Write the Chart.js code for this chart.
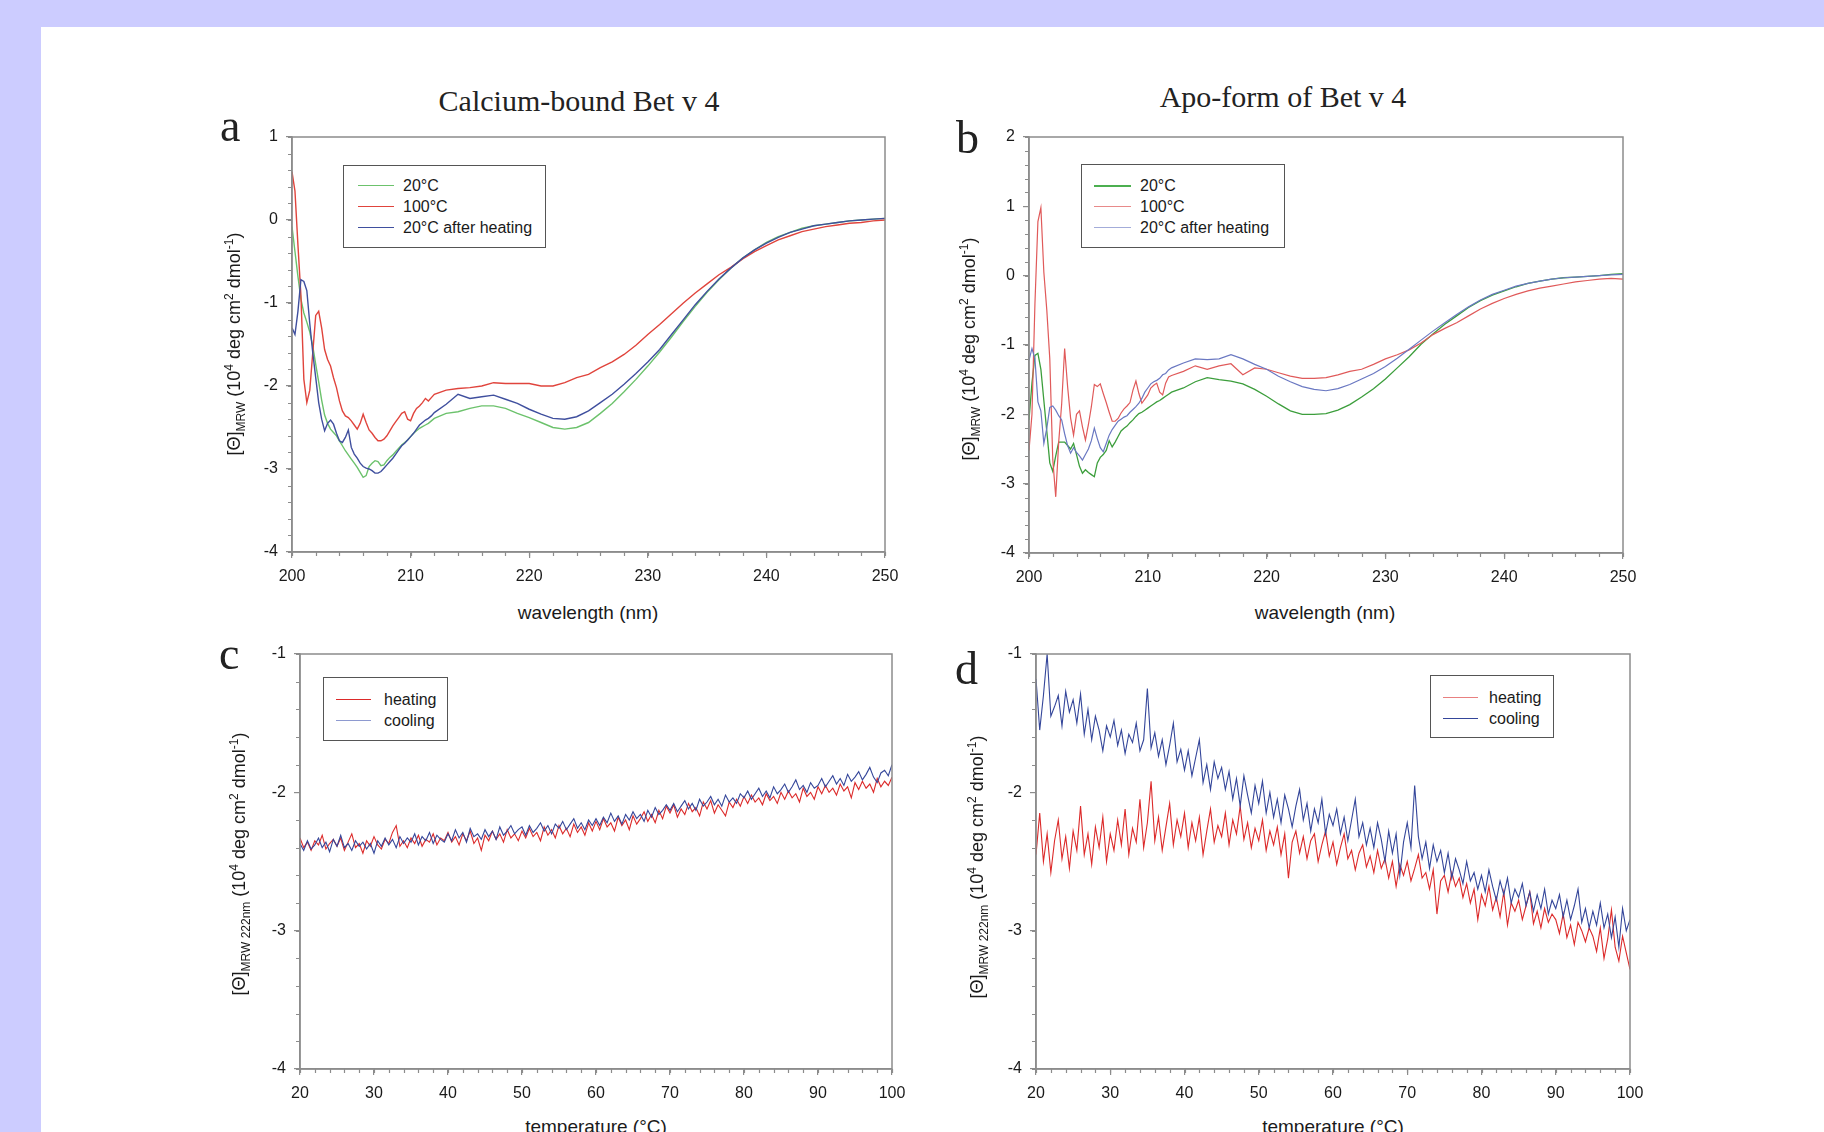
<!DOCTYPE html>
<html><head><meta charset="utf-8">
<script src="https://cdn.jsdelivr.net/npm/chart.js@4.4.1/dist/chart.umd.min.js"></script>
<style>
html,body{margin:0;padding:0;}
body{width:1824px;height:1132px;background:#ccccff;position:relative;overflow:hidden;font-family:'Liberation Sans',Arial,sans-serif;color:#1a1a1a;}
#sheet{position:absolute;left:41px;top:27px;right:0;bottom:0;background:#fff;}
canvas{position:absolute;}
.abs{position:absolute;}
.title{font-family:'Liberation Serif','Times New Roman',serif;font-size:30px;line-height:30px;white-space:nowrap;transform:translateX(-50%);color:#222;}
.letter{font-family:'Liberation Serif','Times New Roman',serif;font-size:46px;line-height:46px;color:#222;}
.xt{font-size:19px;line-height:19px;white-space:nowrap;transform:translateX(-50%);}
.yt{font-size:18px;line-height:22px;white-space:nowrap;transform:translate(-50%,-50%) rotate(-90deg);}
.yt sub,.yt sup{font-size:12px;}
.legend{position:absolute;border:1px solid #555;background:#fff;font-size:16px;z-index:5;box-sizing:border-box;}
.legend .row{position:absolute;height:21px;line-height:21px;white-space:nowrap;}
.legend .ln{position:absolute;top:10px;height:0;}
</style>
</head><body>
<div id="sheet"></div>
<script>
// ---------- data ----------
const WAVELENGTH = [200,200.25,200.5,200.75,201,201.25,201.5,201.75,202,202.25,202.5,202.75,203,203.25,203.5,203.75,204,204.25,204.5,204.75,205,205.25,205.5,205.75,206,206.25,206.5,206.75,207,207.25,207.5,207.75,208,208.25,208.5,208.75,209,209.25,209.5,209.75,210,210.25,210.5,210.75,211,211.25,211.5,211.75,212,
213,214,215,216,217,218,219,220,221,222,223,224,225,226,227,228,229,230,231,232,233,234,235,236,237,238,239,240,241,242,243,244,245,246,247,248,249,250];

const CA_20C = [-0.08,-0.38,-0.68,-0.95,-1.12,-1.23,-1.35,-1.52,-1.74,-1.95,-2.17,-2.35,-2.45,-2.52,-2.56,-2.6,-2.66,-2.72,-2.78,-2.83,-2.88,-2.93,-2.98,-3.04,-3.1,-3.08,-2.97,-2.93,-2.9,-2.91,-2.96,-2.95,-2.9,-2.86,-2.83,-2.79,-2.75,-2.71,-2.68,-2.65,-2.61,-2.57,-2.54,-2.51,-2.49,-2.47,-2.45,-2.42,-2.39,
-2.33,-2.31,-2.27,-2.24,-2.24,-2.27,-2.33,-2.38,-2.44,-2.5,-2.52,-2.5,-2.44,-2.33,-2.21,-2.07,-1.92,-1.76,-1.59,-1.41,-1.22,-1.04,-0.87,-0.72,-0.58,-0.46,-0.36,-0.27,-0.2,-0.15,-0.1,-0.07,-0.05,-0.03,-0.01,0.0,0.01,0.02];
const CA_100C = [0.58,0.35,-0.3,-0.9,-1.92,-2.2,-2.05,-1.6,-1.15,-1.1,-1.3,-1.56,-1.68,-1.76,-1.9,-2.02,-2.18,-2.3,-2.36,-2.38,-2.42,-2.47,-2.52,-2.45,-2.34,-2.44,-2.53,-2.57,-2.62,-2.66,-2.66,-2.64,-2.6,-2.54,-2.48,-2.43,-2.38,-2.33,-2.31,-2.4,-2.42,-2.33,-2.27,-2.24,-2.2,-2.15,-2.18,-2.14,-2.1,
-2.05,-2.03,-2.02,-2.0,-1.96,-1.97,-1.97,-1.97,-2.0,-2.0,-1.96,-1.9,-1.86,-1.78,-1.71,-1.62,-1.51,-1.38,-1.26,-1.13,-1.0,-0.88,-0.77,-0.66,-0.57,-0.47,-0.38,-0.31,-0.24,-0.19,-0.14,-0.11,-0.08,-0.06,-0.04,-0.03,-0.01,0.0];
const CA_20C_AFTER = [-1.3,-1.38,-1.1,-0.72,-0.74,-0.85,-1.25,-1.6,-1.9,-2.2,-2.4,-2.54,-2.45,-2.41,-2.46,-2.57,-2.66,-2.68,-2.62,-2.53,-2.74,-2.82,-2.87,-2.93,-2.97,-2.99,-3.0,-3.02,-3.05,-3.05,-3.03,-2.99,-2.95,-2.91,-2.87,-2.82,-2.77,-2.72,-2.69,-2.65,-2.61,-2.57,-2.52,-2.47,-2.44,-2.41,-2.39,-2.36,-2.32,
-2.22,-2.1,-2.15,-2.13,-2.11,-2.16,-2.21,-2.28,-2.34,-2.39,-2.4,-2.37,-2.3,-2.2,-2.1,-1.98,-1.85,-1.71,-1.56,-1.38,-1.2,-1.02,-0.86,-0.71,-0.58,-0.46,-0.36,-0.28,-0.21,-0.15,-0.11,-0.07,-0.05,-0.03,-0.01,0.0,0.01,0.02];

const APO_20C = [-2.08,-1.55,-1.15,-1.12,-1.35,-1.8,-2.25,-2.7,-2.82,-2.6,-2.4,-2.4,-2.4,-2.45,-2.5,-2.42,-2.58,-2.75,-2.85,-2.8,-2.84,-2.87,-2.9,-2.7,-2.62,-2.58,-2.52,-2.38,-2.47,-2.4,-2.32,-2.24,-2.2,-2.17,-2.12,-2.08,-2.03,-1.99,-1.97,-1.94,-1.91,-1.88,-1.85,-1.82,-1.8,-1.77,-1.74,-1.71,-1.68,
-1.62,-1.53,-1.47,-1.5,-1.52,-1.56,-1.64,-1.74,-1.85,-1.95,-2.0,-2.0,-1.99,-1.94,-1.86,-1.75,-1.63,-1.49,-1.33,-1.17,-0.99,-0.84,-0.7,-0.58,-0.46,-0.36,-0.28,-0.22,-0.16,-0.11,-0.08,-0.05,-0.03,-0.02,-0.01,0.0,0.02,0.03];
const APO_100C = [-2.52,-2.0,-0.4,0.78,0.98,0.05,-0.5,-1.2,-2.65,-3.19,-2.4,-1.85,-1.05,-1.6,-2.05,-2.3,-2.0,-1.95,-2.18,-2.37,-2.15,-1.89,-1.57,-1.6,-1.56,-1.7,-1.83,-1.97,-2.1,-2.1,-2.06,-1.98,-1.92,-1.88,-1.83,-1.65,-1.52,-1.7,-1.84,-1.78,-1.72,-1.62,-1.58,-1.55,-1.68,-1.72,-1.55,-1.46,-1.44,
-1.38,-1.3,-1.35,-1.3,-1.27,-1.43,-1.33,-1.35,-1.4,-1.45,-1.48,-1.48,-1.47,-1.43,-1.38,-1.35,-1.28,-1.2,-1.14,-1.07,-0.97,-0.85,-0.76,-0.68,-0.58,-0.48,-0.4,-0.33,-0.27,-0.22,-0.18,-0.15,-0.12,-0.09,-0.07,-0.05,-0.04,-0.05];
const APO_20C_AFTER = [-1.22,-1.05,-1.2,-1.82,-1.95,-2.42,-2.2,-1.9,-1.88,-1.94,-2.02,-2.08,-2.28,-2.45,-2.56,-2.48,-2.55,-2.6,-2.66,-2.58,-2.5,-2.38,-2.2,-2.35,-2.48,-2.54,-2.42,-2.3,-2.22,-2.16,-2.1,-2.07,-2.04,-2.02,-1.97,-1.93,-1.89,-1.84,-1.77,-1.68,-1.62,-1.56,-1.53,-1.51,-1.48,-1.43,-1.41,-1.36,-1.33,
-1.26,-1.2,-1.21,-1.2,-1.14,-1.2,-1.28,-1.35,-1.45,-1.53,-1.6,-1.64,-1.66,-1.63,-1.57,-1.49,-1.41,-1.31,-1.19,-1.06,-0.93,-0.8,-0.68,-0.56,-0.45,-0.35,-0.27,-0.21,-0.15,-0.11,-0.08,-0.05,-0.03,-0.02,-0.01,0.0,0.01,0.02];

const TEMPERATURE = [20,20.5,21,21.5,22,22.5,23,23.5,24,24.5,25,25.5,26,26.5,27,27.5,28,28.5,29,29.5,30,30.5,31,31.5,32,32.5,33,33.5,34,34.5,35,35.5,36,36.5,37,37.5,38,38.5,39,39.5,40,40.5,41,41.5,42,42.5,43,43.5,44,44.5,45,45.5,46,46.5,47,47.5,48,48.5,49,49.5,50,50.5,51,51.5,52,52.5,53,53.5,54,54.5,55,55.5,56,56.5,57,57.5,58,58.5,59,59.5,60,60.5,61,61.5,62,62.5,63,63.5,64,64.5,65,65.5,66,66.5,67,67.5,68,68.5,69,69.5,70,70.5,71,71.5,72,72.5,73,73.5,74,74.5,75,75.5,76,76.5,77,77.5,78,78.5,79,79.5,80,80.5,81,81.5,82,82.5,83,83.5,84,84.5,85,85.5,86,86.5,87,87.5,88,88.5,89,89.5,90,90.5,91,91.5,92,92.5,93,93.5,94,94.5,95,95.5,96,96.5,97,97.5,98,98.5,99,99.5,100];

const CA_HEATING = [-2.33,-2.40,-2.36,-2.42,-2.35,-2.38,-2.31,-2.41,-2.37,-2.34,
-2.39,-2.33,-2.42,-2.36,-2.30,-2.40,-2.37,-2.44,-2.35,-2.39,
-2.32,-2.38,-2.41,-2.34,-2.37,-2.29,-2.24,-2.39,-2.35,-2.40,
-2.33,-2.37,-2.31,-2.39,-2.34,-2.36,-2.30,-2.38,-2.33,-2.35,
-2.29,-2.36,-2.32,-2.38,-2.30,-2.35,-2.28,-2.37,-2.33,-2.42,
-2.31,-2.35,-2.28,-2.34,-2.30,-2.36,-2.27,-2.33,-2.30,-2.35,
-2.28,-2.33,-2.26,-2.32,-2.29,-2.35,-2.25,-2.31,-2.27,-2.33,
-2.24,-2.30,-2.26,-2.32,-2.23,-2.29,-2.25,-2.31,-2.22,-2.28,
-2.21,-2.27,-2.19,-2.25,-2.22,-2.28,-2.18,-2.24,-2.20,-2.27,
-2.17,-2.23,-2.19,-2.14,-2.21,-2.16,-2.22,-2.13,-2.19,-2.10,
-2.15,-2.09,-2.18,-2.12,-2.16,-2.08,-2.14,-2.11,-2.17,-2.07,
-2.12,-2.06,-2.15,-2.09,-2.13,-2.17,-2.07,-2.11,-2.05,-2.10,
-2.03,-2.08,-2.02,-2.07,-2.04,-2.09,-2.01,-2.06,-2.03,-2.08,
-2.00,-2.05,-1.99,-2.04,-2.01,-2.07,-1.97,-2.03,-2.00,-2.05,
-1.96,-2.01,-1.95,-2.00,-1.97,-2.02,-1.94,-1.99,-1.96,-2.04,
-1.93,-1.98,-1.92,-1.97,-1.94,-2.00,-1.90,-1.96,-1.92,-1.95,
-1.89];
const CA_COOLING = [-2.37,-2.42,-2.35,-2.41,-2.38,-2.33,-2.40,-2.36,-2.43,-2.34,
-2.39,-2.31,-2.40,-2.37,-2.42,-2.35,-2.39,-2.36,-2.41,-2.37,
-2.44,-2.35,-2.39,-2.33,-2.38,-2.34,-2.40,-2.32,-2.37,-2.33,
-2.36,-2.30,-2.38,-2.32,-2.35,-2.29,-2.37,-2.31,-2.34,-2.36,
-2.30,-2.35,-2.27,-2.33,-2.29,-2.36,-2.26,-2.32,-2.30,-2.34,
-2.27,-2.32,-2.28,-2.34,-2.25,-2.31,-2.28,-2.24,-2.30,-2.27,
-2.25,-2.31,-2.24,-2.29,-2.26,-2.22,-2.28,-2.24,-2.30,-2.23,
-2.26,-2.21,-2.27,-2.23,-2.19,-2.26,-2.22,-2.27,-2.20,-2.24,
-2.19,-2.24,-2.18,-2.22,-2.15,-2.21,-2.17,-2.23,-2.16,-2.20,
-2.14,-2.19,-2.16,-2.21,-2.13,-2.18,-2.11,-2.16,-2.13,-2.09,
-2.13,-2.08,-2.14,-2.10,-2.06,-2.12,-2.08,-2.13,-2.05,-2.10,
-2.07,-2.03,-2.09,-2.05,-2.10,-2.02,-2.07,-2.04,-2.08,-2.01,
-2.04,-1.99,-2.05,-2.01,-1.97,-2.03,-1.99,-2.04,-1.96,-2.01,
-1.98,-1.94,-2.00,-1.96,-1.91,-1.98,-1.95,-2.00,-1.93,-1.97,
-1.95,-1.90,-1.96,-1.92,-1.88,-1.94,-1.90,-1.95,-1.87,-1.92,
-1.89,-1.85,-1.91,-1.87,-1.82,-1.89,-1.93,-1.86,-1.84,-1.88,
-1.80];
const APO_HEATING = [-2.45,-2.15,-2.50,-2.30,-2.58,-2.35,-2.20,-2.48,-2.32,-2.55,
-2.28,-2.42,-2.10,-2.45,-2.30,-2.52,-2.25,-2.40,-2.18,-2.50,
-2.30,-2.42,-2.20,-2.38,-2.12,-2.45,-2.26,-2.36,-2.05,-2.40,
-2.22,-1.92,-2.35,-2.18,-2.42,-2.25,-2.08,-2.38,-2.20,-2.32,
-2.15,-2.40,-2.22,-2.35,-2.18,-2.45,-2.28,-2.12,-2.36,-2.24,
-2.32,-2.15,-2.38,-2.20,-2.30,-2.10,-2.34,-2.22,-2.40,-2.26,
-2.35,-2.20,-2.42,-2.28,-2.38,-2.25,-2.45,-2.30,-2.62,-2.36,
-2.28,-2.44,-2.32,-2.48,-2.35,-2.30,-2.50,-2.38,-2.28,-2.46,
-2.36,-2.52,-2.40,-2.30,-2.48,-2.42,-2.56,-2.44,-2.38,-2.54,
-2.46,-2.58,-2.42,-2.55,-2.48,-2.62,-2.50,-2.68,-2.52,-2.60,
-2.50,-2.64,-2.55,-2.45,-2.62,-2.58,-2.70,-2.56,-2.88,-2.64,
-2.60,-2.72,-2.58,-2.68,-2.62,-2.76,-2.66,-2.80,-2.70,-2.92,
-2.74,-2.82,-2.68,-2.85,-2.76,-2.90,-2.72,-2.96,-2.80,-2.86,
-2.78,-2.92,-2.82,-2.72,-2.95,-2.86,-2.98,-2.84,-2.94,-2.88,
-2.92,-3.02,-2.88,-3.05,-2.96,-3.10,-2.94,-3.00,-3.08,-2.98,
-3.04,-3.15,-2.98,-3.20,-3.06,-2.85,-3.12,-3.22,-3.04,-3.16,
-3.28];
const APO_COOLING = [-1.18,-1.55,-1.30,-1.00,-1.45,-1.38,-1.30,-1.52,-1.27,-1.42,
-1.33,-1.50,-1.29,-1.58,-1.40,-1.62,-1.45,-1.55,-1.70,-1.52,
-1.60,-1.48,-1.66,-1.55,-1.72,-1.58,-1.64,-1.50,-1.70,-1.62,
-1.25,-1.68,-1.57,-1.74,-1.62,-1.80,-1.66,-1.50,-1.78,-1.69,
-1.84,-1.70,-1.88,-1.75,-1.62,-1.93,-1.80,-1.98,-1.78,-1.90,
-1.82,-1.98,-1.85,-2.05,-1.90,-2.10,-1.88,-2.02,-2.15,-1.95,
-2.08,-1.92,-2.15,-2.00,-2.18,-2.05,-2.22,-2.02,-2.12,-2.25,
-2.10,-1.98,-2.20,-2.08,-2.28,-2.12,-2.22,-2.05,-2.30,-2.16,
-2.24,-2.12,-2.30,-2.18,-2.35,-2.20,-2.05,-2.32,-2.22,-2.38,
-2.26,-2.40,-2.22,-2.34,-2.50,-2.28,-2.44,-2.30,-2.60,-2.36,
-2.22,-2.40,-1.95,-2.32,-2.48,-2.36,-2.55,-2.38,-2.50,-2.42,
-2.58,-2.44,-2.62,-2.48,-2.56,-2.66,-2.50,-2.64,-2.58,-2.70,
-2.60,-2.72,-2.56,-2.68,-2.78,-2.64,-2.74,-2.62,-2.80,-2.70,
-2.76,-2.66,-2.82,-2.72,-2.86,-2.74,-2.84,-2.70,-2.88,-2.78,
-2.84,-2.74,-2.90,-2.78,-2.92,-2.82,-2.70,-2.94,-2.84,-2.98,
-2.86,-2.96,-2.80,-2.98,-2.88,-3.05,-2.90,-3.12,-2.84,-3.00,
-2.92];

const WL_TICKS = {min: 200, max: 250, step: 10, minor: 2};
const T_TICKS = {min: 20, max: 100, step: 10, minor: 2};
const SPEC_LABELS = ['20°C', '100°C', '20°C after heating'];
const MELT_LABELS = ['heating', 'cooling'];

// ---------- drawing ----------
const framePlugin = {
  id: 'frame',
  afterDraw(chart, args, o) {
    const {ctx, chartArea: a, scales: {x, y}} = chart;
    ctx.save();
    ctx.strokeStyle = '#8c8c8c';
    ctx.lineWidth = 1.2;
    ctx.beginPath();
    const nx = Math.round((o.xMax - o.xMin) / o.xMinor);
    for (let i = 0; i <= nx; i++) {
      const px = Math.round(x.getPixelForValue(o.xMin + i * o.xMinor)) + 0.5;
      ctx.moveTo(px, a.bottom); ctx.lineTo(px, a.bottom + 4);
    }
    const ny = Math.round((o.yMax - o.yMin) / o.yMinor);
    for (let i = 0; i <= ny; i++) {
      const py = Math.round(y.getPixelForValue(o.yMin + i * o.yMinor)) + 0.5;
      ctx.moveTo(a.left, py); ctx.lineTo(a.left - 4, py);
    }
    ctx.stroke();
    ctx.lineWidth = 1.5;
    ctx.strokeRect(a.left, a.top, a.right - a.left, a.bottom - a.top);
    ctx.restore();
  }
};

function addDiv(cls, html, left, top, extra) {
  const d = document.createElement('div');
  d.className = 'abs ' + cls;
  d.innerHTML = html;
  d.style.left = left + 'px';
  d.style.top = top + 'px';
  if (extra) Object.assign(d.style, extra);
  document.body.appendChild(d);
  return d;
}

function makePanel(box, xs, ys, xValues, series) {
  const PADL = 70, PADT = 20, PADR = 34, PADB = 45;
  const cv = document.createElement('canvas');
  cv.width = box.w + PADL + PADR;
  cv.height = box.h + PADT + PADB;
  cv.style.left = (box.l - PADL) + 'px';
  cv.style.top = (box.t - PADT) + 'px';
  cv.style.width = cv.width + 'px';
  cv.style.height = cv.height + 'px';
  document.body.appendChild(cv);
  const tickFont = {family: "'Liberation Sans', Arial, sans-serif", size: 16};
  new Chart(cv, {
    type: 'line',
    data: {
      datasets: series.map(s => ({
        label: s.label,
        data: xValues.map((xv, i) => ({x: xv, y: s.values[i]})),
        borderColor: s.color,
        borderWidth: s.width,
        pointRadius: 0,
        fill: false,
        tension: 0
      }))
    },
    options: {
      responsive: false,
      animation: false,
      devicePixelRatio: 1,
      layout: {padding: {left: 0, top: PADT, right: PADR, bottom: 0}},
      plugins: {
        legend: {display: false},
        tooltip: {enabled: false},
        frame: {xMin: xs.min, xMax: xs.max, xMinor: xs.minor, yMin: ys.min, yMax: ys.max, yMinor: ys.minor}
      },
      scales: {
        x: {
          type: 'linear', min: xs.min, max: xs.max,
          afterFit: s => { s.height = PADB; },
          ticks: {stepSize: xs.step, font: tickFont, color: '#1a1a1a', padding: 9, maxRotation: 0, autoSkip: false},
          grid: {drawOnChartArea: false, drawTicks: true, tickLength: 6, color: '#8c8c8c', lineWidth: 1.2},
          border: {display: true, color: '#8c8c8c', width: 1.5}
        },
        y: {
          type: 'linear', min: ys.min, max: ys.max,
          afterFit: s => { s.width = PADL; },
          ticks: {stepSize: ys.step, font: tickFont, color: '#1a1a1a', padding: 8, autoSkip: false},
          grid: {drawOnChartArea: false, drawTicks: true, tickLength: 6, color: '#8c8c8c', lineWidth: 1.2},
          border: {display: true, color: '#8c8c8c', width: 1.5}
        }
      }
    },
    plugins: [framePlugin]
  });
}

function makeLegend(box, items, lineL, lineW, textL, rowTops) {
  const lg = document.createElement('div');
  lg.className = 'legend';
  Object.assign(lg.style, {left: box.l + 'px', top: box.t + 'px', width: box.w + 'px', height: box.h + 'px'});
  items.forEach((it, i) => {
    const row = document.createElement('div');
    row.className = 'row';
    row.style.top = rowTops[i] + 'px';
    row.style.left = '0px';
    row.style.width = '100%';
    const ln = document.createElement('div');
    ln.className = 'ln';
    Object.assign(ln.style, {left: lineL + 'px', width: lineW + 'px', borderTop: it.lw + 'px solid ' + it.color});
    const tx = document.createElement('span');
    tx.textContent = it.label;
    Object.assign(tx.style, {position: 'absolute', left: textL + 'px'});
    row.appendChild(ln); row.appendChild(tx);
    lg.appendChild(row);
  });
  document.body.appendChild(lg);
}

const YT_SPEC = '[&Theta;]<sub>MRW</sub> (10<sup>4</sup> deg cm<sup>2</sup> dmol<sup>-1</sup>)';
const YT_MELT = '[&Theta;]<sub>MRW 222nm</sub> (10<sup>4</sup> deg cm<sup>2</sup> dmol<sup>-1</sup>)';

// colours
const A_COL = {g: '#6cc26c', r: '#e0443c', b: '#3f4f9e'};
const B_COL = {g: '#3c9e3c', r: '#e05a5a', b: '#6a78c2'};
const M_COL = {r: '#dc2a2a', b: '#34469a'};

// Panel a
makePanel({l: 292, t: 137, w: 593, h: 415}, WL_TICKS, {min: -4, max: 1, step: 1, minor: 0.2}, WAVELENGTH, [
  {label: SPEC_LABELS[2], values: CA_20C_AFTER, color: A_COL.b, width: 1.4},
  {label: SPEC_LABELS[1], values: CA_100C, color: A_COL.r, width: 1.4},
  {label: SPEC_LABELS[0], values: CA_20C, color: A_COL.g, width: 1.4}
]);
// Panel b
makePanel({l: 1029, t: 137, w: 594, h: 416}, WL_TICKS, {min: -4, max: 2, step: 1, minor: 0.2}, WAVELENGTH, [
  {label: SPEC_LABELS[2], values: APO_20C_AFTER, color: B_COL.b, width: 1.2},
  {label: SPEC_LABELS[1], values: APO_100C, color: B_COL.r, width: 1.2},
  {label: SPEC_LABELS[0], values: APO_20C, color: B_COL.g, width: 1.3}
]);
// Panel c
makePanel({l: 300, t: 654, w: 592, h: 415}, T_TICKS, {min: -4, max: -1, step: 1, minor: 0.2}, TEMPERATURE, [
  {label: MELT_LABELS[1], values: CA_COOLING, color: M_COL.b, width: 1.1},
  {label: MELT_LABELS[0], values: CA_HEATING, color: M_COL.r, width: 1.1}
]);
// Panel d
makePanel({l: 1036, t: 654, w: 594, h: 415}, T_TICKS, {min: -4, max: -1, step: 1, minor: 0.2}, TEMPERATURE, [
  {label: MELT_LABELS[1], values: APO_COOLING, color: M_COL.b, width: 1.1},
  {label: MELT_LABELS[0], values: APO_HEATING, color: M_COL.r, width: 1.1}
]);

// titles & letters
addDiv('title', 'Calcium-bound Bet v 4', 579, 86);
addDiv('title', 'Apo-form of Bet v 4', 1283, 82);
addDiv('letter', 'a', 220, 103);
addDiv('letter', 'b', 956, 115);
addDiv('letter', 'c', 219, 631);
addDiv('letter', 'd', 955, 646);

// axis titles
addDiv('xt', 'wavelength (nm)', 588, 603);
addDiv('xt', 'wavelength (nm)', 1325, 603);
addDiv('xt', 'temperature (°C)', 596, 1117);
addDiv('xt', 'temperature (°C)', 1333, 1117);
addDiv('yt', YT_SPEC, 235, 344);
addDiv('yt', YT_SPEC, 970, 349);
addDiv('yt', YT_MELT, 240, 864);
addDiv('yt', YT_MELT, 978, 867);

// legends
makeLegend({l: 343, t: 165, w: 203, h: 83}, [
  {label: SPEC_LABELS[0], color: A_COL.g, lw: 1.5},
  {label: SPEC_LABELS[1], color: A_COL.r, lw: 1.5},
  {label: SPEC_LABELS[2], color: A_COL.b, lw: 1.5}
], 14, 36, 59, [9, 30, 51]);
makeLegend({l: 1081, t: 164, w: 204, h: 84}, [
  {label: SPEC_LABELS[0], color: '#4caf50', lw: 2},
  {label: SPEC_LABELS[1], color: '#e88a8a', lw: 1.2},
  {label: SPEC_LABELS[2], color: '#a3acd9', lw: 1.2}
], 12, 37, 58, [10, 31, 52]);
makeLegend({l: 323, t: 677, w: 125, h: 64}, [
  {label: MELT_LABELS[0], color: M_COL.r, lw: 1.5},
  {label: MELT_LABELS[1], color: '#8e9ad0', lw: 1.2}
], 12, 35, 60, [11, 32]);
makeLegend({l: 1430, t: 675, w: 124, h: 63}, [
  {label: MELT_LABELS[0], color: '#e88080', lw: 1.2},
  {label: MELT_LABELS[1], color: M_COL.b, lw: 1.5}
], 12, 35, 58, [11, 32]);
</script>
</body></html>
